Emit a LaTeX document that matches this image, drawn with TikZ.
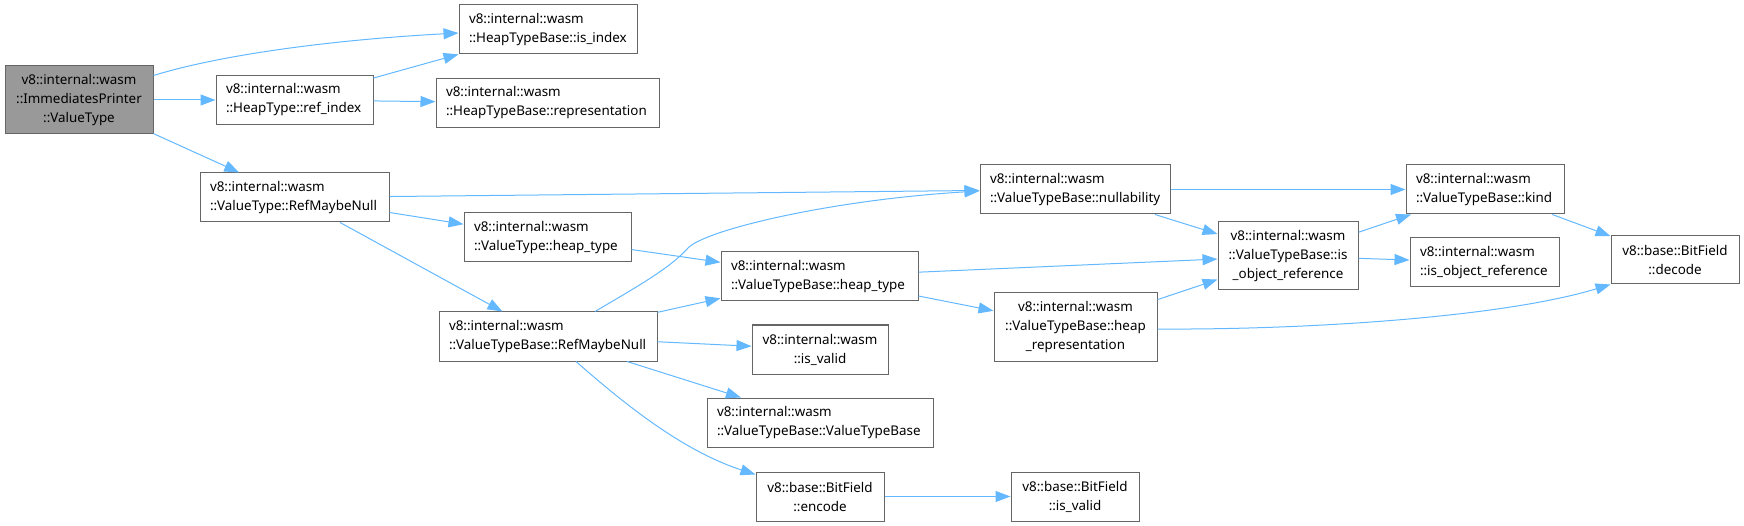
\documentclass[tikz,border=0pt]{standalone}
\usepackage{fontspec}
\setmainfont{Noto Sans}
\usetikzlibrary{arrows.meta, positioning}

\definecolor{edgeblue}{HTML}{63B8FF}
\definecolor{boxgray}{HTML}{666666}
\definecolor{rootgray}{HTML}{999999}

\begin{document}
\begin{tikzpicture}[x=1pt, y=-1pt, >={Triangle[length=15pt, width=11pt]},
    fn/.style={draw=boxgray, fill=white, line width=1pt, inner xsep=10pt,
               inner ysep=0pt, minimum height=49pt, align=left,
               font=\fontsize{13.4}{19}\selectfont},
    fnc/.style={fn, align=center},
    fn3/.style={fnc, minimum height=68pt},
    call/.style={->, draw=edgeblue, line width=1pt}]
  \useasboundingbox (0,0) rectangle (1744,526);

  % Caller
  \node[fn3, fill=rootgray, text width=128pt] (root) at (79,100)
    {v8::internal::wasm\\::ImmediatesPrinter\\::ValueType};

  % Column 1
  \node[fn, text width=137pt] (ref_index) at (294.5,100)
    {v8::internal::wasm\\::HeapType::ref\_index};
  \node[fn, text width=169pt] (vt_refnull) at (294.5,197.5)
    {v8::internal::wasm\\::ValueType::RefMaybeNull};

  % Column 2
  \node[fn, text width=158pt] (is_index) at (548,29.5)
    {v8::internal::wasm\\::HeapTypeBase::is\_index};
  \node[fn, text width=203pt] (representation) at (547.5,103)
    {v8::internal::wasm\\::HeapTypeBase::representation};
  \node[fn, text width=147pt] (vt_heaptype) at (547.5,237.5)
    {v8::internal::wasm\\::ValueType::heap\_type};
  \node[fn, text width=198pt] (vtb_refnull) at (548,336.5)
    {v8::internal::wasm\\::ValueTypeBase::RefMaybeNull};

  % Column 3
  \node[fn, text width=177pt] (vtb_heaptype) at (819.5,276.5)
    {v8::internal::wasm\\::ValueTypeBase::heap\_type};
  \node[fnc, text width=116pt] (is_valid) at (820,349.5)
    {v8::internal::wasm\\::is\_valid};
  \node[fn, text width=206pt] (vtb_ctor) at (820,422.5)
    {v8::internal::wasm\\::ValueTypeBase::ValueTypeBase};
  \node[fnc, text width=108pt] (encode) at (820,496.5)
    {v8::base::BitField\\::encode};

  % Column 4
  \node[fn, text width=170pt] (nullability) at (1075,189.5)
    {v8::internal::wasm\\::ValueTypeBase::nullability};
  \node[fn3, text width=143pt] (heap_rep) at (1075.5,327)
    {v8::internal::wasm\\::ValueTypeBase::heap\\\_representation};
  \node[fnc, text width=108pt] (bf_is_valid) at (1075,496.5)
    {v8::base::BitField\\::is\_valid};

  % Column 5
  \node[fn3, text width=120pt] (vtb_isobjref) at (1288,256)
    {v8::internal::wasm\\::ValueTypeBase::is\\\_object\_reference};

  % Column 6
  \node[fn, text width=138pt] (kind) at (1485,189.5)
    {v8::internal::wasm\\::ValueTypeBase::kind};
  \node[fn, text width=129pt] (is_objref) at (1484.5,262.5)
    {v8::internal::wasm\\::is\_object\_reference};

  % Column 7
  \node[fnc, text width=108pt, minimum height=48pt] (decode) at (1675,260)
    {v8::base::BitField\\::decode};

  % Calls
  \draw[call] ([yshift=-10pt]root.north east) .. controls (220,55) and (330,40)
    .. ([yshift=-3.5pt]is_index.west);
  \draw[call] (root) -- (ref_index);
  \draw[call] (root) -- (vt_refnull);
  \draw[call] (ref_index) -- (is_index);
  \draw[call] (ref_index) -- (representation);
  \draw[call] (vt_refnull) -- (nullability);
  \draw[call] (vt_refnull) -- (vt_heaptype);
  \draw[call] (vt_refnull) -- (vtb_refnull);
  \draw[call] (vt_heaptype) -- (vtb_heaptype);
  \draw[call] ([xshift=47pt]vtb_refnull.north) .. controls (640,285) and (670,268)
    .. (688,248) .. controls (705,230) and (830,200) .. ([yshift=-1.5pt]nullability.west);
  \draw[call] (vtb_refnull) -- (vtb_heaptype);
  \draw[call] (vtb_refnull) -- (is_valid);
  \draw[call] (vtb_refnull) -- (vtb_ctor);
  \draw[call] ([xshift=28pt]vtb_refnull.south) .. controls (620,400) and (680,450)
    .. ([yshift=-3pt]encode.north west);
  \draw[call] (vtb_heaptype) -- (vtb_isobjref);
  \draw[call] (vtb_heaptype) -- (heap_rep);
  \draw[call] (nullability) -- (kind);
  \draw[call] (nullability) -- (vtb_isobjref);
  \draw[call] (heap_rep) -- (vtb_isobjref);
  \draw[call] ([yshift=-2pt]heap_rep.east) .. controls (1300,330) and (1500,318)
    .. (decode.south west);
  \draw[call] (vtb_isobjref) -- (kind);
  \draw[call] (vtb_isobjref) -- (is_objref);
  \draw[call] (kind) -- (decode);
  \draw[call] (encode) -- (bf_is_valid);
\end{tikzpicture}
\end{document}
